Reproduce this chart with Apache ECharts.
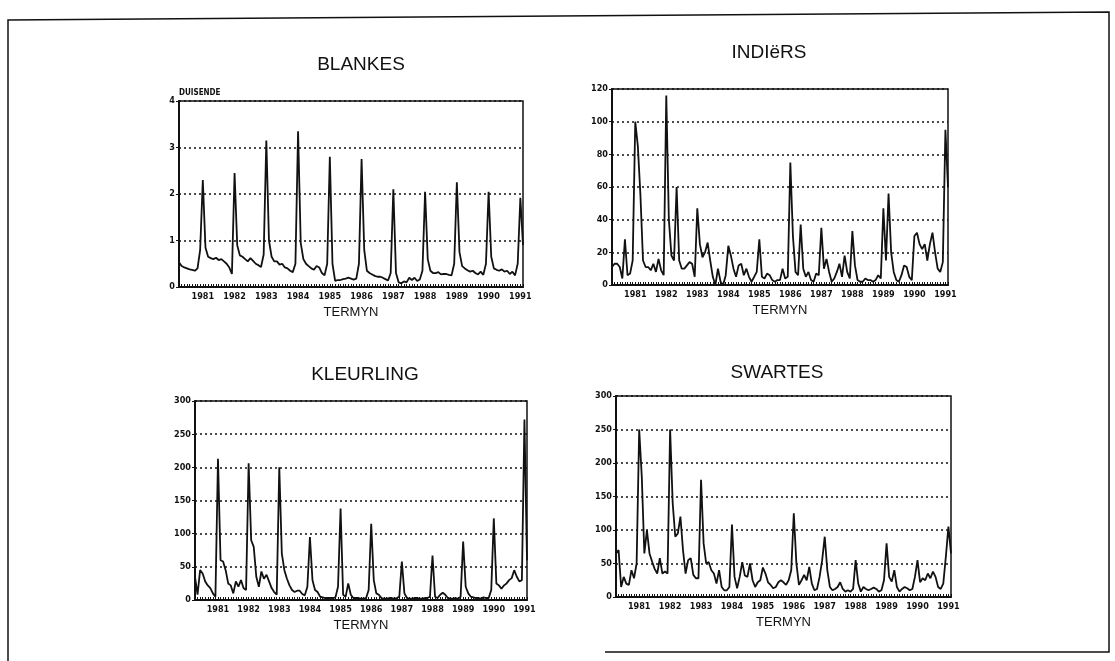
<!DOCTYPE html>
<html>
<head>
<meta charset="utf-8">
<script src="https://cdn.jsdelivr.net/npm/echarts@6/dist/echarts.min.js"></script>
<style>
  html, body { margin: 0; padding: 0; background: #fff; }
  #chart { width: 1115px; height: 661px; }
</style>
</head>
<body>
<div id="chart"></div>
<script>
// maandelikse reeks, April 1980 tot Februarie 1991
var startYear = 1980, startMonth = 4;
var yearLabels = ['1981', '1982', '1983', '1984', '1985', '1986', '1987', '1988', '1989', '1990', '1991'];

// duisende
var blankes = [
    0.53, 0.45, 0.42, 0.4, 0.38, 0.37, 0.35, 0.4, 0.8,
    2.3, 0.85, 0.65, 0.62, 0.6, 0.63, 0.58, 0.6, 0.55, 0.5, 0.42, 0.28,
    2.45, 0.9, 0.68, 0.65, 0.6, 0.55, 0.62, 0.56, 0.5, 0.47, 0.43, 0.7,
    3.15, 1.0, 0.65, 0.55, 0.55, 0.48, 0.5, 0.42, 0.4, 0.35, 0.32, 0.5,
    3.35, 0.95, 0.6, 0.5, 0.45, 0.4, 0.37, 0.45, 0.42, 0.3, 0.25, 0.5,
    2.8, 0.5, 0.13, 0.15, 0.15, 0.17, 0.18, 0.2, 0.18, 0.16, 0.18, 0.5,
    2.75, 0.8, 0.35, 0.3, 0.27, 0.24, 0.22, 0.22, 0.2, 0.17, 0.14, 0.3,
    2.1, 0.3, 0.1, 0.08, 0.12, 0.1, 0.2, 0.15, 0.2, 0.13, 0.16, 0.35,
    2.05, 0.6, 0.35, 0.3, 0.3, 0.32, 0.27, 0.28, 0.28, 0.26, 0.25, 0.5,
    2.25, 0.75, 0.45, 0.4, 0.36, 0.33, 0.35, 0.3, 0.27, 0.33, 0.26, 0.5,
    2.05, 0.65, 0.4, 0.37, 0.35, 0.38, 0.33, 0.35, 0.28, 0.33, 0.25, 0.5,
    1.92, 0.9
];

var indiers = [
    11, 13, 13, 11, 4, 28, 6, 7, 15,
    100, 85, 55, 15, 11, 11, 9, 13, 8, 16, 9, 6,
    116, 40, 18, 15, 60, 15, 10, 10, 12, 14, 13, 5,
    47, 25, 17, 20, 26, 15, 5, 0, 10, 2, 0, 6,
    24, 18, 10, 5, 12, 13, 6, 10, 5, 2, 5, 8,
    28, 5, 4, 7, 6, 3, 2, 3, 3, 10, 4, 5,
    75, 30, 8, 6, 37, 10, 5, 8, 3, 2, 7, 6,
    35, 10, 16, 8, 2, 4, 8, 13, 5, 18, 8, 4,
    33, 12, 3, 2, 2, 4, 3, 3, 2, 3, 6, 4,
    47, 15, 56, 20, 8, 3, 2, 6, 12, 11, 5, 3,
    30, 32, 25, 22, 25, 15, 25, 32, 20, 10, 8, 14,
    95, 60
];

var kleurling = [
    35, 8, 45, 40, 28, 22, 18, 10, 5,
    213, 60, 58, 45, 25, 22, 10, 28, 20, 30, 18, 15,
    206, 90, 80, 35, 20, 43, 32, 38, 28, 18, 12, 8,
    200, 70, 45, 32, 22, 15, 12, 14, 14, 9, 7, 20,
    95, 30, 15, 12, 5, 4, 3, 3, 3, 3, 4, 20,
    138, 8, 5, 25, 8, 3, 3, 3, 2, 2, 3, 15,
    115, 30, 10, 8, 3, 2, 2, 3, 3, 2, 3, 5,
    58, 10, 3, 2, 2, 3, 3, 2, 2, 3, 3, 5,
    67, 5, 3, 8, 11, 8, 3, 2, 2, 3, 2, 5,
    88, 20, 10, 5, 4, 3, 3, 2, 4, 3, 3, 15,
    123, 25, 22, 17, 22, 25, 30, 33, 45, 35, 28, 30,
    272, 60
];

var swartes = [
    65, 70, 15, 30, 20, 18, 40, 28, 50,
    250, 180, 65, 100, 65, 53, 42, 35, 58, 35, 38, 35,
    250, 140, 90, 95, 120, 70, 35, 55, 58, 33, 28, 28,
    175, 80, 50, 52, 40, 35, 20, 40, 15, 10, 10, 15,
    108, 30, 13, 30, 52, 32, 30, 50, 25, 15, 22, 25,
    44, 35, 22, 18, 13, 15, 22, 25, 22, 18, 25, 40,
    125, 50, 18, 25, 33, 25, 45, 20, 10, 12, 30, 55,
    90, 40, 15, 10, 12, 15, 22, 12, 8, 10, 8, 12,
    55, 20, 8, 15, 12, 10, 12, 14, 12, 8, 10, 25,
    80, 30, 23, 40, 15, 8, 12, 15, 13, 10, 12, 30,
    55, 22, 28, 25, 35, 28, 38, 30, 15, 12, 20, 60,
    105, 65
];

var months = [];
for (var i = 0, y = startYear, m = startMonth; i < blankes.length; i++, m++) {
    if (m > 12) { m = 1; y++; }
    months.push(y + '-' + (m < 10 ? '0' + m : m));
}

var tickFont = "'Liberation Sans Narrow', 'DejaVu Sans Condensed', sans-serif";
var ink = '#111';

var panels = [
    { title: 'BLANKES',   data: blankes,   max: 4,   step: 1,  rect: [179, 101, 344, 186], tx: 356, ty: 50 },
    { title: 'INDIëRS',   data: indiers,   max: 120, step: 20, rect: [612, 89, 336, 196],  tx: 764, ty: 38 },
    { title: 'KLEURLING', data: kleurling, max: 300, step: 50, rect: [195, 401, 332, 199], tx: 360, ty: 360 },
    { title: 'SWARTES',   data: swartes,   max: 300, step: 50, rect: [616, 396, 335, 201], tx: 772, ty: 358 }
];

var option = {
    backgroundColor: '#fff',
    animation: false,
    title: [], grid: [], xAxis: [], yAxis: [], series: [],
    graphic: [{
        type: 'polyline',
        shape: { points: [[8, 661], [8, 20], [1109, 12], [1109, 652], [605, 652]] },
        style: { stroke: ink, lineWidth: 1.5, fill: null }
    }]
};

panels.forEach(function(p, k) {
    option.title.push({
        text: p.title, left: p.tx, top: p.ty, textAlign: 'center',
        textStyle: { fontFamily: "'Liberation Sans', sans-serif", fontSize: 19, fontWeight: 'normal', color: ink }
    });
    option.grid.push({
        left: p.rect[0], top: p.rect[1], width: p.rect[2], height: p.rect[3],
        show: true, borderColor: ink, borderWidth: 1.5, backgroundColor: 'transparent'
    });
    option.xAxis.push({
        type: 'category', gridIndex: k, data: months, boundaryGap: false,
        name: 'TERMYN', nameLocation: 'middle', nameGap: 19,
        nameTextStyle: { fontFamily: "'Liberation Sans', sans-serif", fontSize: 13, color: ink },
        axisLine: { lineStyle: { color: ink, width: 2 } },
        axisTick: { show: true, interval: 0, inside: true, length: 3, lineStyle: { color: ink, width: 1 } },
        axisLabel: {
            interval: function(idx, val) { return val.slice(5) === '01'; },
            formatter: function(val) { return yearLabels[yearLabels.indexOf(val.slice(0, 4))]; },
            margin: 5, fontFamily: tickFont, fontSize: 9, fontWeight: 'bold', color: ink
        },
        splitLine: { show: false }
    });
    option.yAxis.push({
        type: 'value', gridIndex: k, min: 0, max: p.max, interval: p.step,
        name: k === 0 ? 'DUISENDE' : '', nameLocation: 'end', nameGap: 4,
        nameTextStyle: { align: 'left', fontFamily: tickFont, fontSize: 8, fontWeight: 'bold', color: ink },
        axisLine: { show: true, lineStyle: { color: ink, width: 2 } },
        axisTick: { show: true, length: 3, lineStyle: { color: ink } },
        axisLabel: { margin: 4, fontFamily: tickFont, fontSize: 9, fontWeight: 'bold', color: ink },
        splitLine: { show: true, lineStyle: { color: ink, type: [2, 3], width: 1.5 } }
    });
    option.series.push({
        type: 'line', xAxisIndex: k, yAxisIndex: k, data: p.data,
        showSymbol: false, smooth: false,
        lineStyle: { color: ink, width: 1.8 }
    });
});

var myChart = echarts.init(document.getElementById('chart'));
myChart.setOption(option);
</script>
</body>
</html>
